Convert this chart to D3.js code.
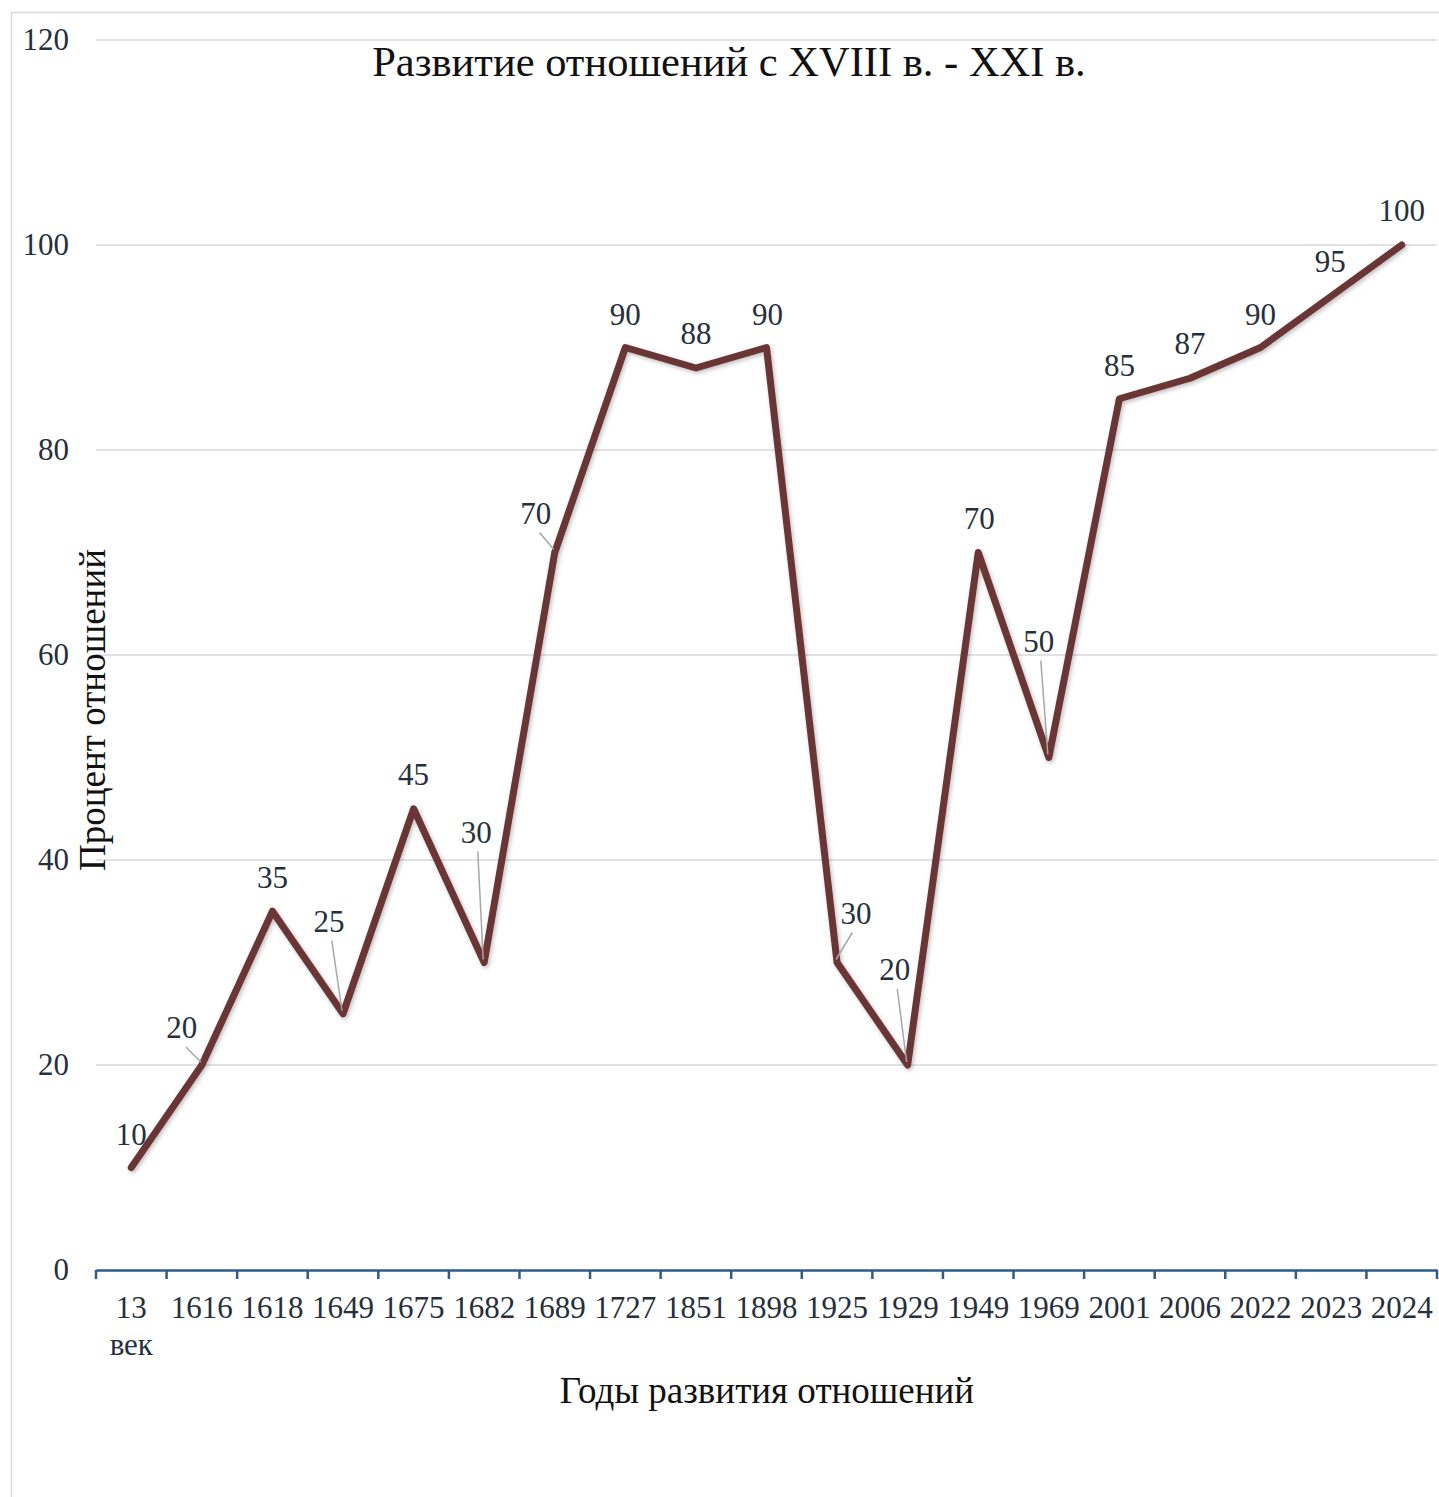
<!DOCTYPE html>
<html>
<head>
<meta charset="utf-8">
<script src="https://cdn.jsdelivr.net/npm/d3@7"></script>
<style>
  body { margin: 0; background: #fff; }
  svg { display: block; }
  svg text { font-family: "Liberation Serif", "Times New Roman", serif; }
</style>
</head>
<body>
<svg id="chart" width="1439" height="1497"></svg>
<script>
const categories = ['13 век', '1616', '1618', '1649', '1675', '1682', '1689', '1727', '1851', '1898',
  '1925', '1929', '1949', '1969', '2001', '2006', '2022', '2023', '2024'];
const values = [10, 20, 35, 25, 45, 30, 70, 90, 88, 90, 30, 20, 70, 50, 85, 87, 90, 95, 100];
const yTicks = [0, 20, 40, 60, 80, 100, 120];

// label placement relative to the point (dx, dy) and whether a leader line is drawn
const labelOffsets = [
  [0, -34, false], [-20, -38, true], [0, -34, false], [-14, -93, true], [0, -35, false],
  [-8, -131, true], [-19, -40, true], [0, -34, false], [0, -35, false], [1, -34, false],
  [19, -50, true], [-13, -96, true], [1, -35, false], [-10, -117, true], [0, -34, false],
  [0, -35, false], [0, -34, false], [-1, -35, false], [0, -35, false]
];

const svg = d3.select('#chart');
const margin = { top: 40, left: 96, right: 2, bottom: 227 };
const width = 1439, height = 1497;
const textColor = '#262f3c';

const x = d3.scaleBand().domain(categories).range([margin.left, width - margin.right]);
const y = d3.scaleLinear().domain([0, 120]).range([height - margin.bottom, margin.top]);

// chart frame
svg.append('rect')
  .attr('x', 11.5).attr('y', 12.5)
  .attr('width', width).attr('height', height)
  .attr('fill', 'none').attr('stroke', '#d9d9d9').attr('stroke-width', 1.5);

const defs = svg.append('defs');
defs.append('filter').attr('id', 'shadow')
  .attr('x', '-5%').attr('y', '-5%').attr('width', '110%').attr('height', '110%')
  .append('feDropShadow')
  .attr('dx', 1.5).attr('dy', 2).attr('stdDeviation', 2)
  .attr('flood-color', '#000').attr('flood-opacity', 0.25);

// gridlines
svg.append('g')
  .selectAll('line')
  .data(yTicks.filter(d => d > 0))
  .join('line')
  .attr('x1', margin.left).attr('x2', width - margin.right)
  .attr('y1', d => y(d)).attr('y2', d => y(d))
  .attr('stroke', '#d9d9d9').attr('stroke-width', 1.5);

// y axis labels
svg.append('g')
  .attr('transform', `translate(${margin.left},0)`)
  .call(d3.axisLeft(y).tickValues(yTicks).tickSize(0).tickPadding(27))
  .attr('font-family', null)
  .call(g => g.select('.domain').remove())
  .call(g => g.selectAll('text')
    .attr('font-size', 31)
    .attr('fill', textColor));

// x axis
const xAxis = svg.append('g')
  .attr('transform', `translate(0,${y(0)})`)
  .call(d3.axisBottom(x).tickSize(0).tickFormat(''))
  .attr('font-family', null);
xAxis.select('.domain').attr('stroke', '#2e5b88').attr('stroke-width', 2.5);

const edges = categories.map(c => x(c)).concat([x(categories[categories.length - 1]) + x.bandwidth()]);
xAxis.append('g').selectAll('line')
  .data(edges)
  .join('line')
  .attr('x1', d => d).attr('x2', d => d)
  .attr('y1', 0).attr('y2', 9)
  .attr('stroke', '#2e5b88').attr('stroke-width', 2.5);

xAxis.append('g').selectAll('text')
  .data(categories)
  .join('text')
  .attr('x', d => x(d) + x.bandwidth() / 2)
  .attr('y', 48)
  .attr('text-anchor', 'middle')
  .attr('font-size', 31)
  .attr('fill', textColor)
  .each(function (d) {
    const parts = d.split(' ');
    const t = d3.select(this);
    parts.forEach((p, i) => {
      t.append('tspan')
        .attr('x', x(d) + x.bandwidth() / 2)
        .attr('dy', i === 0 ? 0 : 37)
        .text(p);
    });
  });

// line
const pts = categories.map((c, i) => ({ c, v: values[i], off: labelOffsets[i] }));
const line = d3.line().x(d => x(d.c) + x.bandwidth() / 2).y(d => y(d.v));

svg.append('path')
  .datum(pts)
  .attr('d', line)
  .attr('fill', 'none')
  .attr('stroke', '#6b3636')
  .attr('stroke-width', 7)
  .attr('stroke-linejoin', 'round')
  .attr('stroke-linecap', 'round')
  .attr('filter', 'url(#shadow)');

// data labels with leader lines
const labels = svg.append('g');
pts.forEach(d => {
  const px = x(d.c) + x.bandwidth() / 2;
  const py = y(d.v);
  const [dx, dy, lead] = d.off;
  if (lead) {
    labels.append('line')
      .attr('x1', px + dx * 0.8).attr('y1', py + dy + 20)
      .attr('x2', px - 1).attr('y2', py - 3)
      .attr('stroke', '#a6a6a6').attr('stroke-width', 1.5);
  }
  labels.append('text')
    .attr('x', px + dx).attr('y', py + dy + 11)
    .attr('text-anchor', 'middle')
    .attr('font-size', 31)
    .attr('fill', textColor)
    .text(d.v);
});

// title
svg.append('text')
  .attr('x', 729).attr('y', 76)
  .attr('text-anchor', 'middle')
  .attr('font-size', 42.5)
  .attr('fill', '#111')
  .text('Развитие отношений с XVIII в. - XXI в.');

// axis titles
svg.append('text')
  .attr('x', 767).attr('y', 1403)
  .attr('text-anchor', 'middle')
  .attr('font-size', 37)
  .attr('fill', '#111')
  .text('Годы развития отношений');

svg.append('text')
  .attr('transform', `translate(105,710) rotate(-90)`)
  .attr('text-anchor', 'middle')
  .attr('font-size', 37)
  .attr('fill', '#111')
  .text('Процент отношений');
</script>
</body>
</html>
